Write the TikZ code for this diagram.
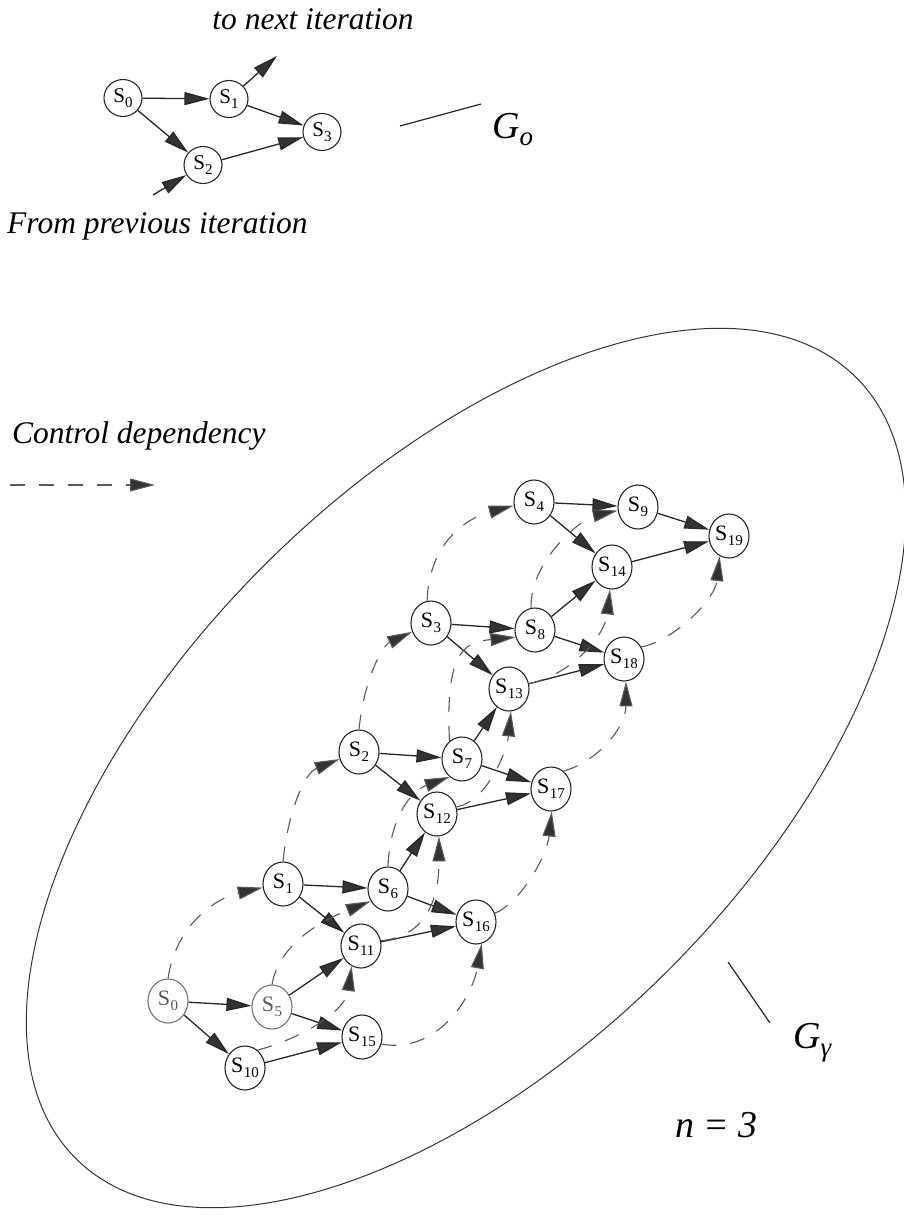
\documentclass[tikz,border=0pt]{standalone}
\usepackage{fontspec}
\setmainfont{Liberation Serif}
\usetikzlibrary{arrows.meta,shapes.geometric}
\newcommand{\Sl}[1]{S\kern0.3pt\raisebox{-5pt}{\fontsize{15}{15}\selectfont #1}}
\begin{document}
\begin{tikzpicture}[x=1pt,y=-1pt,
  st/.style={ellipse, draw=black!85, line width=1.1pt, inner sep=0pt,
    minimum width=40pt, minimum height=44pt, font=\fontsize{22}{22}\selectfont},
  sttop/.style={st, minimum width=38pt, minimum height=37pt, font=\fontsize{21}{21}\selectfont},
  faded/.style={draw=black!55, text=black!65},
  sarr/.style={draw=black!85, line width=1.3pt, -{Triangle[length=25pt,width=13pt,fill=black!80]}},
  dep/.style={draw=black!65, line width=1.1pt, dash pattern=on 15pt off 14pt,
    -{Triangle[length=25pt,width=13pt,fill=black!80]}},
  lead/.style={draw=black!85, line width=1.2pt},
  lab/.style={inner sep=0pt, font=\fontsize{31.5}{36}\selectfont\itshape},
  big/.style={inner sep=0pt, font=\fontsize{38}{40}\selectfont\itshape}]
\useasboundingbox (0,0) rectangle (903,1226);

% ---------- top graph G_o ----------
\node[sttop] (T0) at (123,98) {\Sl{0}};
\node[sttop] (T1) at (229,99) {\Sl{1}};
\node[sttop] (T2) at (203,165) {\Sl{2}};
\node[sttop] (T3) at (322,132) {\Sl{3}};
\coordinate (nxt) at (277,56);
\coordinate (prv) at (153,195);
\draw[sarr] (T0) -- (T1);
\draw[sarr] (T0) -- (T2);
\draw[sarr] (T1) -- (T3);
\draw[sarr] (T2) -- (T3);
\draw[sarr] (T1) -- (nxt);
\draw[sarr] (prv) -- (T2);
\node[lab, anchor=base] (tnext) at (313,29) {to next iteration};
\node[lab, anchor=base west] (fprev) at (7,233) {From previous iteration};
\coordinate (go1) at (400,126);
\coordinate (go2) at (481,104);
\draw[lead] (go1) -- (go2);
\node[big, anchor=base west] (Go) at (492,138) {G\raisebox{-7pt}{\fontsize{27}{27}\selectfont o}};

% ---------- legend ----------
\node[lab, anchor=base west] (cdep) at (12,443) {Control dependency};
\coordinate (lg1) at (10,485);
\coordinate (lg2) at (155,485);
\draw[dep] (lg1) -- (lg2);

% ---------- big ellipse ----------
\draw[draw=black!80, line width=1pt, rotate around={45:(466,768)}] (466,768) ellipse [x radius=552, y radius=286];
\coordinate (gg1) at (728,962);
\coordinate (gg2) at (770,1023);
\draw[lead] (gg1) -- (gg2);
\node[big, anchor=base west] (Gg) at (793,1048) {G\raisebox{-8pt}{\fontsize{27}{27}\selectfont γ}};
\node[big, anchor=base west] (n3) at (675,1137) {n = 3};

% ---------- unrolled graph ----------
\node[st, faded] (L0) at (168,1001) {\Sl{0}};
\node[st] (L1) at (283,884) {\Sl{1}};
\node[st] (L2) at (359,752) {\Sl{2}};
\node[st] (L3) at (431,623) {\Sl{3}};
\node[st] (L4) at (534,502) {\Sl{4}};
\node[st, faded] (L5) at (272,1007) {\Sl{5}};
\node[st] (L6) at (388,889) {\Sl{6}};
\node[st] (L7) at (462,759) {\Sl{7}};
\node[st] (L8) at (535,630) {\Sl{8}};
\node[st] (L9) at (638,507) {\Sl{9}};
\node[st] (L10) at (245,1068) {\Sl{10}};
\node[st] (L11) at (361,946) {\Sl{11}};
\node[st] (L12) at (437,814) {\Sl{12}};
\node[st] (L13) at (509,689) {\Sl{13}};
\node[st] (L14) at (612,567) {\Sl{14}};
\node[st] (L15) at (362,1037) {\Sl{15}};
\node[st] (L16) at (476,922) {\Sl{16}};
\node[st] (L17) at (551,789) {\Sl{17}};
\node[st] (L18) at (624,659) {\Sl{18}};
\node[st] (L19) at (729,536) {\Sl{19}};

% solid data dependencies
\draw[sarr] (L0) -- (L5);
\draw[sarr] (L0) -- (L10);
\draw[sarr] (L5) -- (L11);
\draw[sarr] (L5) -- (L15);
\draw[sarr] (L10) -- (L15);
\draw[sarr] (L1) -- (L6);
\draw[sarr] (L1) -- (L11);
\draw[sarr] (L11) -- (L16);
\draw[sarr] (L6) -- (L12);
\draw[sarr] (L6) -- (L16);
\draw[sarr] (L2) -- (L7);
\draw[sarr] (L2) -- (L12);
\draw[sarr] (L12) -- (L17);
\draw[sarr] (L7) -- (L13);
\draw[sarr] (L7) -- (L17);
\draw[sarr] (L3) -- (L8);
\draw[sarr] (L3) -- (L13);
\draw[sarr] (L13) -- (L18);
\draw[sarr] (L8) -- (L14);
\draw[sarr] (L8) -- (L18);
\draw[sarr] (L4) -- (L9);
\draw[sarr] (L4) -- (L14);
\draw[sarr] (L14) -- (L19);
\draw[sarr] (L9) -- (L19);

% dashed control dependencies (up then right)
\draw[dep] (L0.north) .. controls +(8,-55) and +(-45,10) .. (L1.190);
\draw[dep] (L1.north) .. controls +(5,-50) and +(-35,14) .. (L2.200);
\draw[dep] (L2.north) .. controls +(5,-50) and +(-30,14) .. (L3.205);
\draw[dep] (L3.100) .. controls +(2,-60) and +(-45,12) .. (L4.190);
\draw[dep] (L5.north) .. controls +(8,-45) and +(-40,16) .. (L6.215);
\draw[dep] (L6.north) .. controls +(2,-50) and +(-38,14) .. (L7.235);
\draw[dep] (L7.125) .. controls +(-4.5,-92) and +(-50,5) .. (L8.200);
\draw[dep] (L8.100) .. controls +(-1.5,-49) and +(-33,7) .. (L9.190);
% dashed control dependencies (right then up)
\draw[dep] (L10.55) .. controls +(45,-12) and +(-6,45) .. (L11.245);
\draw[dep] (L11.15) .. controls +(55,-5) and +(0,45) .. (L12.275);
\draw[dep] (L12.20) .. controls +(30,-5) and +(-4,40) .. (L13.275);
\draw[dep] (L13.15) .. controls +(45,-10) and +(-5,45) .. (L14.265);
\draw[dep] (L15.-20) .. controls +(55,10) and +(-10,55) .. (L16.285);
\draw[dep] (L16.25) .. controls +(25,-10) and +(-5,45) .. (L17.272);
\draw[dep] (L17.55) .. controls +(35,-10) and +(0,45) .. (L18.275);
\draw[dep] (L18.35) .. controls +(30,-5) and +(-5,45) .. (L19.245);
\end{tikzpicture}
\end{document}
